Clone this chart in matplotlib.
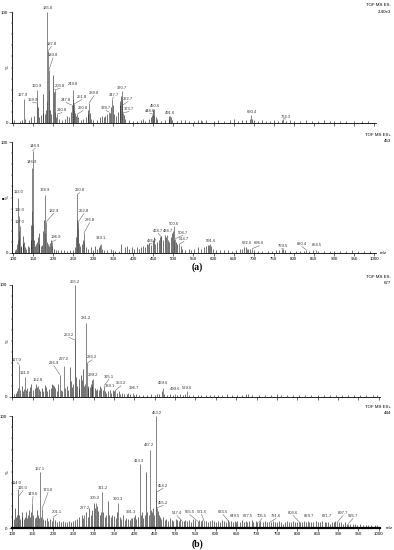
import matplotlib
matplotlib.use("Agg")
import matplotlib.pyplot as plt
from matplotlib.ticker import MultipleLocator

plt.rcParams["font.family"] = ["Liberation Sans", "DejaVu Sans"]

# ================== DATA ==================
# panel (a) top : TOF MS ES-  labelled peaks (m/z, % intensity)
a1_mz = [127.9, 159.9, 160.9, 185.8, 187.8, 189.8, 203.8, 210.8, 247.8, 249.8, 251.8, 260.8,
         289.8, 338.7, 347.7, 370.7, 372.7, 373.7, 448.6, 450.6, 491.6, 693.4, 774.3]
a1_int = [22, 18, 30, 100, 65, 48, 30, 8, 16, 30, 17, 8,
          18, 10, 22, 29, 16, 9, 8, 13, 6, 7, 4]
a1_lab_x = [124, 149, 160.6, 186.5, 195.5, 199.8, 217, 222, 232, 249.6, 272, 274.6,
            302, 332, 352, 371.8, 386.8, 389.3, 441.6, 454, 491.5, 696, 780]
a1_lab_y = [25, 20.7, 33.3, 104, 71, 61, 33.3, 11.7, 20.7, 35, 23.4, 13.5,
            27, 13.5, 25.2, 31.5, 21.6, 12.6, 10.8, 15.3, 9, 9.9, 5.7]
a1_minor = [(103, 3), (118, 2), (122, 3), (130, 4), (140, 3), (145, 5), (152, 6), (163, 14), (165, 5),
            (170, 7), (174, 26), (176, 9), (180, 8), (183, 12), (184, 20), (188.8, 30), (191, 12),
            (194, 8), (200.8, 43), (202, 28), (205, 10), (208, 5), (215, 4), (222, 3), (230, 4),
            (235, 6), (240, 5), (245, 10), (248.8, 22), (250.8, 18), (253, 12), (255, 9), (258, 6),
            (262, 5), (270, 3), (275, 4), (281, 5), (286, 8), (288, 12), (291, 9), (294, 4), (300, 3),
            (310, 3), (318, 5), (322, 6), (326, 5), (330, 6), (334, 8), (341, 9), (345, 14), (349, 16),
            (352, 8), (356, 6), (362, 10), (366, 16), (368, 20), (369.7, 24), (371.7, 22), (376, 7),
            (380, 4), (390, 3), (400, 2), (410, 2), (420, 3), (424, 4), (430, 2), (440, 4), (444, 5),
            (446, 7), (449.6, 12), (452, 6), (456, 5), (458, 4), (470, 2), (480, 3), (488, 4), (490, 6),
            (493, 5), (497, 3), (510, 2), (520, 3), (530, 3), (540, 2), (552, 2), (560, 3), (568, 3),
            (572, 2), (580, 3), (600, 2), (610, 3), (625, 2), (640, 3), (650, 4), (660, 2), (670, 3),
            (680, 3), (690, 4), (695, 4), (700, 3), (710, 2), (720, 3), (730, 2), (740, 2), (750, 3),
            (760, 2), (770, 3), (780, 2), (790, 3), (800, 2), (815, 2), (830, 3), (845, 2), (860, 2),
            (875, 3), (890, 2), (900, 2), (915, 2), (930, 2), (950, 2), (970, 2), (985, 2)]

# panel (a) bottom : TOF MS ES+
a2_mz = [113.0, 115.0, 117.0, 146.9, 148.9, 178.9, 182.9, 196.9, 260.8, 262.8, 276.8, 319.1,
         436.7, 468.7, 484.7, 500.6, 504.7, 514.7, 591.6, 682.6, 696.6, 769.5, 830.4, 854.5]
a2_int = [50, 33, 24, 77, 92, 52, 28, 10, 53, 28, 18, 8,
          7, 15, 16, 24, 13, 8, 8, 4, 4, 4, 3, 3]
a2_lab_x = [115, 116.7, 116.7, 146.6, 155.6, 179.8, 201.5, 207.2, 266.3, 277, 291.3, 319.5,
            446.6, 461.6, 486.5, 501.5, 524, 526.4, 593.8, 682.3, 714, 774, 820, 858]
a2_lab_y = [54.7, 38.7, 27.7, 81.7, 96.7, 56.5, 38.1, 14.1, 56.5, 37.8, 29.7, 13.8,
            11.1, 20.2, 19.9, 26.1, 18.2, 12.6, 10.8, 8.7, 8.7, 6.3, 8.1, 6.9]
a2_minor = [(104, 3), (108, 4), (111, 8), (112, 12), (114, 20), (116, 14), (119, 5), (121, 6), (124, 8),
            (125.5, 15), (127, 10), (130, 5), (133, 4), (137, 6), (141, 5), (144, 12), (145.5, 25),
            (147.5, 38), (150, 25), (152, 12), (155, 6), (158, 8), (161, 10), (163, 14), (164.5, 18),
            (166, 8), (170, 6), (173, 7), (176, 20), (177.5, 30), (180, 18), (184, 10), (187, 8),
            (190, 6), (193, 9), (195, 12), (198, 6), (203, 4), (208, 3), (213, 3), (220, 3), (228, 3),
            (235, 2), (242, 3), (250, 3), (255, 5), (258, 14), (259.5, 30), (261.8, 22), (264, 9),
            (268, 6), (272, 8), (274, 12), (278, 10), (281, 5), (288, 4), (294, 5), (300, 3), (305, 6),
            (310, 4), (314, 5), (316, 7), (321, 4), (328, 3), (335, 3), (345, 4), (350, 3), (355, 2),
            (365, 2), (370, 8), (380, 5), (384, 6), (390, 4), (397, 5), (402, 4), (408, 5), (414, 4),
            (420, 5), (425, 6), (430, 5), (434, 8), (439, 9), (445, 7), (449, 12), (452, 14), (455, 8),
            (460, 10), (464, 12), (466, 14), (470, 15), (474, 12), (478, 16), (482, 14), (486, 12),
            (489, 10), (493, 14), (497, 18), (499, 20), (502, 12), (507, 10), (510, 8), (518, 6),
            (522, 4), (530, 3), (538, 4), (545, 3), (552, 4), (560, 5), (568, 4), (575, 5), (582, 6),
            (586, 7), (589, 7), (594, 6), (598, 4), (605, 3), (615, 3), (625, 3), (635, 3), (645, 2),
            (655, 3), (665, 4), (672, 4), (676, 5), (680, 5), (686, 4), (690, 4), (700, 3), (710, 2),
            (722, 2), (735, 2), (745, 2), (755, 3), (763, 3), (772, 4), (778, 3), (790, 2), (805, 2),
            (815, 2), (825, 2), (838, 2), (848, 3), (860, 2), (875, 2), (890, 2), (900, 2), (915, 2),
            (930, 2), (945, 3), (960, 2), (975, 2), (990, 2)]

# panel (b) top : TOF MS ES-
b1_mz = [117.0, 131.0, 162.8, 216.9, 227.2, 253.2, 255.2, 281.2, 283.2, 299.2, 325.1, 339.1,
         353.2, 396.7, 469.6, 499.6, 529.6]
b1_int = [29, 18, 10, 20, 28, 51, 100, 66, 30, 16, 10, 6,
          6, 4, 8, 3, 5]
b1_lab_x = [111.5, 131.2, 163.1, 202.5, 227, 239.3, 254, 281.1, 295.8, 298.3, 337.6, 340,
            367, 399, 470, 499.8, 529]
b1_lab_y = [33, 21.2, 15.2, 30, 33.6, 55.4, 103, 70.8, 35.4, 19.6, 18.2, 9.8,
            12.2, 7.8, 12.2, 7.1, 8.3]
b1_minor = [(104, 3), (108, 4), (112, 5), (115, 8), (120, 6), (123, 10), (126, 5), (128, 7), (134, 6),
            (137, 8), (140, 5), (143, 9), (147, 12), (150, 6), (155, 8), (158, 12), (160, 9), (165, 7),
            (168, 5), (172, 8), (176, 5), (180, 11), (183, 9), (186, 5), (191, 7), (194, 8), (198, 12),
            (200, 11), (203, 10), (206, 8), (210, 5), (213, 12), (220, 6), (223, 5), (230, 8),
            (234, 10), (238, 6), (241, 27), (244, 14), (247, 9), (250, 12), (257, 18), (259, 10),
            (263, 8), (265, 16), (268, 20), (270, 15), (273, 25), (276, 10), (279, 12), (285, 10),
            (287, 8), (290, 9), (293, 12), (295, 15), (297, 10), (302, 8), (305, 6), (308, 7), (312, 6),
            (315, 10), (319, 8), (322, 6), (328, 5), (331, 4), (335, 5), (343, 4), (347, 6), (350, 5),
            (357, 4), (361, 5), (365, 3), (370, 4), (375, 3), (381, 3), (385, 4), (390, 3), (400, 2),
            (405, 3), (412, 2), (420, 2), (430, 2), (440, 3), (450, 2), (455, 3), (460, 3), (467, 5),
            (472, 3), (480, 2), (487, 3), (495, 2), (505, 2), (512, 3), (520, 2), (525, 3), (535, 2),
            (545, 2), (555, 2), (563, 2), (575, 2), (585, 2), (595, 2), (605, 2), (615, 2), (628, 3),
            (640, 2), (652, 2), (665, 2), (675, 3), (680, 3), (690, 2), (705, 2), (720, 2), (735, 2),
            (750, 3), (760, 2), (775, 2), (790, 2), (805, 2), (820, 2), (835, 2), (850, 2), (865, 2),
            (880, 2), (895, 2), (910, 2), (925, 2), (940, 2), (955, 2), (970, 2), (985, 2), (995, 2)]

# panel (b) bottom : TOF MS ES+
b2_mz = [114.0, 115.0, 149.0, 167.1, 173.0, 201.1, 277.2, 305.2, 321.2, 360.3, 391.3, 413.3,
         437.2, 453.2, 454.2, 455.2, 517.4, 555.5, 571.5, 633.5, 649.5, 677.5, 705.5, 731.6,
         803.6, 829.7, 871.7, 897.7, 925.7]
b2_int = [35, 28, 21, 50, 17, 10, 12, 22, 32, 22, 9, 57,
          70, 100, 32, 18, 6, 6, 6, 5, 5, 5, 5, 5,
          6, 5, 5, 5, 4]
b2_lab_x = [111.5, 126.3, 150.9, 168, 187.7, 209.8, 278.6, 303.2, 322.9, 359.7, 391.6, 411.3,
            435.9, 455.5, 470.3, 470.3, 504.7, 536, 565, 617.7, 647, 679, 713, 748,
            789.7, 829, 873.3, 912.6, 937]
b2_lab_y = [40.2, 35.7, 30.4, 52.7, 33.9, 14.3, 17.9, 26.8, 35.7, 25.9, 14.3, 59.8,
            74.1, 103, 37.5, 22.3, 13.4, 14.3, 14.3, 14.3, 10.7, 10.7, 10.7, 10.7,
            13.4, 10.7, 10.7, 13.4, 10.7]
b2_minor = [(103, 8), (106, 18), (109, 10), (112, 12), (117, 12), (120, 8), (123, 10), (125, 14),
            (128, 8), (131, 10), (133, 14), (136, 9), (139, 12), (141, 16), (144, 10), (147, 14),
            (152, 12), (155, 9), (158, 10), (161, 16), (163, 12), (165, 9), (170, 10), (176, 8),
            (180, 7), (184, 9), (188, 6), (193, 8), (197, 6), (205, 7), (210, 5), (215, 6), (220, 5),
            (225, 6), (230, 5), (235, 5), (240, 6), (245, 5), (250, 6), (255, 7), (260, 8), (265, 10),
            (270, 12), (273, 9), (281, 14), (285, 10), (289, 18), (293, 12), (297, 16), (301, 22),
            (303, 18), (308, 20), (311, 15), (315, 12), (318, 14), (324, 14), (327, 10), (331, 12),
            (335, 24), (338, 12), (342, 10), (346, 12), (351, 11), (355, 9), (357, 14), (364, 10),
            (368, 8), (372, 12), (376, 7), (380, 9), (384, 8), (388, 7), (395, 9), (399, 10), (402, 12),
            (405, 8), (409, 10), (416, 12), (419, 14), (422, 9), (425, 12), (429, 50), (432, 14),
            (435, 12), (440, 16), (443, 14), (446, 18), (449, 12), (457, 15), (460, 12), (463, 10),
            (466, 8), (470, 10), (474, 7), (478, 8), (483, 6), (487, 9), (492, 7), (496, 6), (501, 8),
            (505, 7), (509, 6), (513, 8), (521, 6), (525, 7), (530, 6), (535, 7), (539, 5), (545, 8),
            (550, 7), (559, 7), (563, 6), (567, 7), (575, 6), (580, 5), (585, 6), (590, 7), (595, 6),
            (600, 5), (605, 6), (610, 5), (615, 7), (620, 6), (625, 5), (630, 7), (637, 6), (643, 5),
            (646, 6), (653, 6), (660, 5), (665, 7), (670, 5), (674, 6), (681, 6), (688, 7), (692, 5),
            (698, 6), (702, 5), (709, 6), (715, 5), (720, 6), (725, 5), (735, 5), (740, 6), (745, 5),
            (750, 5), (755, 6), (760, 5), (765, 4), (770, 5), (775, 6), (780, 5), (785, 5), (790, 6),
            (795, 5), (800, 5), (807, 5), (812, 5), (817, 6), (822, 5), (826, 6), (834, 5), (840, 5),
            (845, 6), (850, 5), (856, 5), (862, 6), (868, 5), (875, 5), (880, 4), (885, 5), (890, 5),
            (894, 6), (902, 5), (908, 5), (913, 4), (918, 5), (922, 4), (930, 4), (936, 4), (942, 4),
            (948, 3), (955, 4), (962, 3), (968, 3), (975, 3), (982, 3), (990, 3), (997, 3)]

W, H = 394.0, 550.0
FS = 3.2      # ticks / headers
FS_PK = 3.0   # peak labels


def draw_panel(fig, px_left, px_right, px_top, px_bottom, xlim, mz, inten, lab_x, lab_y,
               minor, show_xlabels, base_lw=0.6):
    ax = fig.add_axes([px_left / W, 1 - px_bottom / H, (px_right - px_left) / W, (px_bottom - px_top) / H])
    mx = [p[0] for p in minor]
    my = [p[1] for p in minor]
    ax.vlines(mx, 0, my, color="#222222", linewidth=0.45)
    ax.vlines(mz, 0, inten, color="#555555", linewidth=0.5)
    for m, h, lx, ly in zip(mz, inten, lab_x, lab_y):
        ax.text(lx, ly, f"{m:.1f}", fontsize=FS_PK, ha="center", va="center", color="#333333", clip_on=False)
        if abs(lx - m) > 4 or ly - h > 6:
            ax.plot([m, lx], [h, ly - 2.2], color="#555555", linewidth=0.35, clip_on=False)
    ax.set_xlim(*xlim)
    ax.set_ylim(0, 100)
    for s in ["top", "right"]:
        ax.spines[s].set_visible(False)
    ax.spines["left"].set_linewidth(0.6)
    ax.spines["bottom"].set_linewidth(base_lw)
    ax.set_yticks([0, 100])
    ax.set_yticklabels(["0", "100"])
    ax.yaxis.set_minor_locator(MultipleLocator(10))
    ax.xaxis.set_major_locator(MultipleLocator(50))
    ax.xaxis.set_minor_locator(MultipleLocator(10))
    ax.tick_params(axis="both", which="major", labelsize=FS, length=2, width=0.4, pad=1)
    ax.tick_params(axis="both", which="minor", length=1, width=0.3)
    if not show_xlabels:
        ax.set_xticklabels([])
    ax.text(-0.011, 50, "%", transform=ax.get_yaxis_transform(), rotation=90,
            fontsize=FS, ha="center", va="center")
    return ax


fig = plt.figure(figsize=(3.94, 5.5), dpi=100)

ax1 = draw_panel(fig, 12, 376, 12, 123, (97.5, 1005), a1_mz, a1_int, a1_lab_x, a1_lab_y, a1_minor, False)
ax2 = draw_panel(fig, 12, 376, 142, 253, (97.5, 1005), a2_mz, a2_int, a2_lab_x, a2_lab_y, a2_minor, True)
ax3 = draw_panel(fig, 11.5, 380, 285, 397, (98, 1003.4), b1_mz, b1_int, b1_lab_x, b1_lab_y, b1_minor, False)
ax4 = draw_panel(fig, 11.5, 380, 416, 528, (98, 1003.4), b2_mz, b2_int, b2_lab_x, b2_lab_y, b2_minor, True,
                 base_lw=1.6)

# instrument headers
hdr = [("TOF MS ES-", 5), ("2.40e3", 12), ("TOF MS ES+", 135), ("453", 141),
       ("TOF MS ES-", 277), ("677", 283), ("TOF MS ES+", 407), ("444", 413)]
for t, y in hdr:
    fig.text(391 / W, 1 - y / H, t, fontsize=FS, ha="right", va="center")

fig.text(380 / W, 1 - 253 / H, "m/z", fontsize=FS, ha="left", va="center")
fig.text(386 / W, 1 - 528 / H, "m/z", fontsize=FS, ha="left", va="center")
fig.text(2.5 / W, 1 - 198 / H, "\u25a0", fontsize=3.0, ha="center", va="center")

fig.text(197 / W, 1 - 267 / H, "(a)", fontsize=7, fontweight="bold", ha="center", va="center",
         family=["Liberation Serif", "DejaVu Serif"])
fig.text(197 / W, 1 - 544 / H, "(b)", fontsize=7, fontweight="bold", ha="center", va="center",
         family=["Liberation Serif", "DejaVu Serif"])

fig.savefig("out.png", dpi=100)
